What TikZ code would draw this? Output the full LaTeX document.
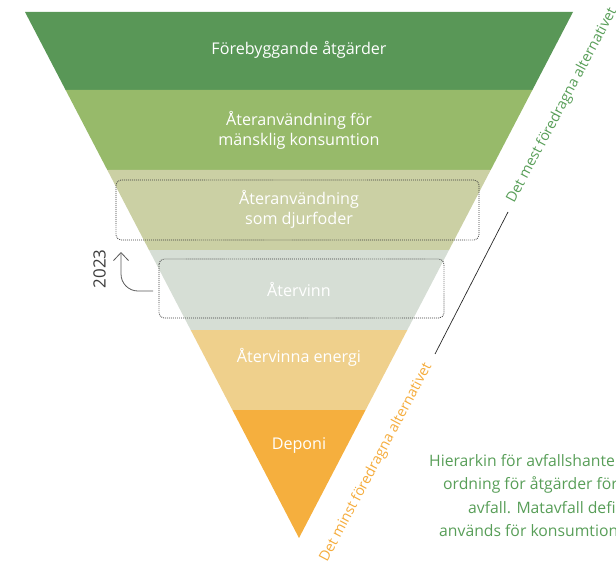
\documentclass[tikz,border=0pt]{standalone}
\usepackage{fontspec}
\setmainfont{Open Sans}
\usetikzlibrary{arrows.meta}
\definecolor{bandA}{RGB}{89,151,87}
\definecolor{bandB}{RGB}{151,186,106}
\definecolor{bandC}{RGB}{203,208,164}
\definecolor{bandD}{RGB}{214,222,213}
\definecolor{bandE}{RGB}{239,208,140}
\definecolor{bandF}{RGB}{245,175,62}
\definecolor{txtgreen}{RGB}{88,158,88}
\definecolor{txtorange}{RGB}{245,172,60}
\definecolor{boxgray}{RGB}{60,60,60}
\tikzset{
  bandtext/.style={text=white, align=center, font=\fontsize{16.2}{20}\selectfont, inner sep=0pt},
  diagtext/.style={font=\fontsize{14.4}{16}\selectfont, inner sep=0pt, rotate=62, anchor=base west},
  notetext/.style={text=txtgreen, font=\fontsize{15.8}{19}\selectfont, inner sep=0pt, anchor=base west},
  dotbox/.style={draw=boxgray, line width=0.8pt, dash pattern=on 0.9pt off 1.1pt, rounded corners=5bp},
}
\begin{document}
\begin{tikzpicture}[x=1bp,y=-1bp]
\useasboundingbox (0,0) rectangle (616,564);
\clip (0,0) rectangle (616,564);
% bands
\fill[bandA] (25,12) -- (573,12) -- (532.4,90) -- (65.6,90) -- cycle;
\fill[bandB] (65.6,90) -- (532.4,90) -- (490.7,170) -- (107.3,170) -- cycle;
\fill[bandC] (107.3,170) -- (490.7,170) -- (449,250) -- (149,250) -- cycle;
\fill[bandD] (149,250) -- (449,250) -- (407.3,330) -- (190.7,330) -- cycle;
\fill[bandE] (190.7,330) -- (407.3,330) -- (365.6,410) -- (232.4,410) -- cycle;
\fill[bandF] (232.4,410) -- (365.6,410) -- (299,538) -- cycle;
% band labels
\node[bandtext] (t1) at (299,50) {Förebyggande åtgärder};
\node[bandtext] (t2) at (299,130) {Återanvändning för\\mänsklig konsumtion};
\node[bandtext] (t3) at (299,209) {Återanvändning\\som djurfoder};
\node[bandtext] (t4) at (299,289) {Återvinn};
\node[bandtext] (t5) at (299,357) {Återvinna energi};
\node[bandtext] (t6) at (299,446) {Deponi};
% dotted boxes
\draw[dotbox] (116,180) rectangle (479,240);
\draw[dotbox] (159,259) rectangle (444,318);
% 2023 arrow
\coordinate (arrS) at (153,291);
\coordinate (arrE) at (121,252);
\draw[draw=boxgray!85, line width=0.8pt, rounded corners=17bp, -{Straight Barb[length=8bp,width=15bp,line width=0.8pt]}] (arrS) -| (arrE);
\node[text=boxgray, font=\fontsize{17}{17}\selectfont, rotate=90, inner sep=0pt] (year) at (99.5,269) {2023};
% diagonal labels
\node[diagtext, text=txtgreen] (most) at (514,204) {Det mest föredragna alternativet};
\node[diagtext, text=txtorange] (least) at (327,563) {Det minst föredragna alternativet};
\coordinate (lnA) at (508,212);
\coordinate (lnB) at (435,354);
\draw[line width=0.7pt, black!85] (lnA) -- (lnB);
% note
\node[notetext] (n1) at (429,466) {Hierarkin för avfallshante};
\node[notetext] (n2) at (443,489.5) {ordning för åtgärder för};
\node[notetext] (n3) at (468,513) {avfall. Matavfall defi};
\node[notetext] (n4) at (439,536.5) {används för konsumtion};
\end{tikzpicture}
\end{document}
